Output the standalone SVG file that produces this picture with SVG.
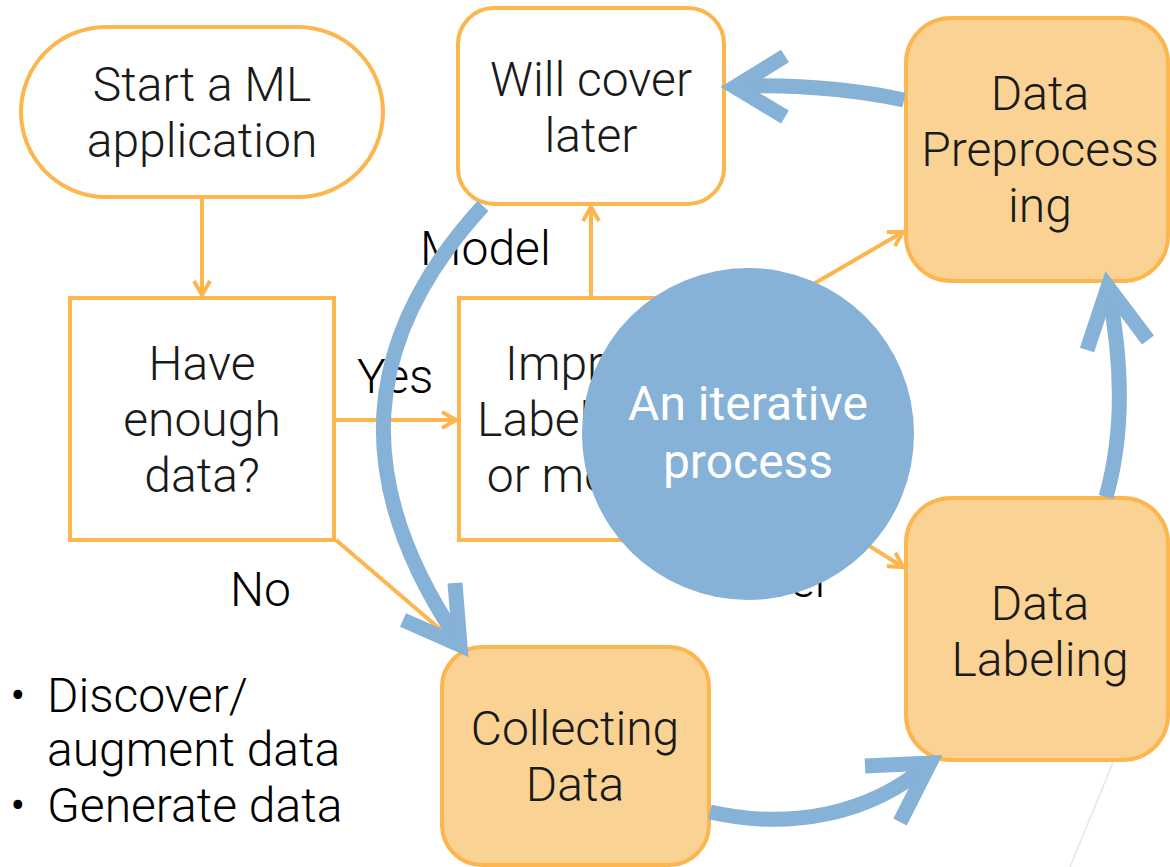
<svg xmlns="http://www.w3.org/2000/svg" width="1170" height="867" viewBox="0 0 1170 867">
<style>
.t{font-family:Roboto,"Liberation Sans",sans-serif;font-weight:300;font-size:48px;fill:#1a1a1a;text-anchor:middle}
.l{font-family:Roboto,"Liberation Sans",sans-serif;font-weight:300;font-size:48px;fill:#000}
.w{font-family:Roboto,"Liberation Sans",sans-serif;font-weight:400;font-size:48px;fill:#fff;text-anchor:middle}
.box{fill:#fff;stroke:#FDB54E;stroke-width:4}
.ob{fill:#F9D294;stroke:#FDB54E;stroke-width:4}
.oc{fill:none;stroke:#FDB54E;stroke-width:4}
.bc{fill:none;stroke:#85B2D6;stroke-width:15}
</style>
<defs>
<marker id="oa" viewBox="0 0 20 20" refX="18" refY="10" markerWidth="20" markerHeight="20" markerUnits="userSpaceOnUse" orient="auto">
<path d="M4,2 L18,10 L4,18" fill="none" stroke="#FDB54E" stroke-width="4"/>
</marker>
</defs>
<line x1="1114" y1="760" x2="1070" y2="867" stroke="#e6e6e6" stroke-width="1.5"/>
<g id="connectors">
<line class="oc" x1="202" y1="198" x2="202" y2="295" marker-end="url(#oa)"/>
<line class="oc" x1="335" y1="420" x2="456" y2="420" marker-end="url(#oa)"/>
<line class="oc" x1="336" y1="540" x2="462" y2="648" marker-end="url(#oa)"/>
<line class="oc" x1="591" y1="298" x2="591" y2="207" marker-end="url(#oa)"/>
<line class="oc" x1="760" y1="315" x2="903" y2="232" marker-end="url(#oa)"/>
<line class="oc" x1="780" y1="490" x2="903" y2="567" marker-end="url(#oa)"/>
<text class="l" x="357" y="393">Yes</text>
<text class="l" x="230" y="606">No</text>
<text class="l" x="420" y="265">Model</text>
<text class="l" x="780" y="352">Data</text>
<text class="l" x="712" y="597">Label</text>
</g>
<g id="start"><rect class="box" x="21" y="27" width="362" height="170" rx="85"/>
<text class="t" x="202" y="101">Start a ML</text><text class="t" x="202" y="157">application</text></g>
<g id="enough"><rect class="box" x="70" y="298" width="264" height="242"/>
<text class="t" x="202" y="380">Have</text><text class="t" x="202" y="436">enough</text><text class="t" x="202" y="492">data?</text></g>
<g id="improve"><rect class="box" x="459" y="298" width="265" height="242"/>
<text class="t" x="591" y="380">Improve</text><text class="t" x="591" y="436">Label, data</text><text class="t" x="591" y="492">or model?</text></g>
<g id="later"><rect class="box" x="458" y="8" width="266" height="196" rx="36"/>
<text class="t" x="591" y="96">Will cover</text><text class="t" x="591" y="152">later</text></g>
<g id="preprocess"><rect class="ob" x="906" y="18" width="262" height="263" rx="45"/>
<text class="t" x="1040" y="110">Data</text><text class="t" x="1040" y="166">Preprocess</text><text class="t" x="1040" y="222">ing</text></g>
<g id="labeling"><rect class="ob" x="906" y="498" width="262" height="262" rx="45"/>
<text class="t" x="1040" y="620">Data</text><text class="t" x="1040" y="676">Labeling</text></g>
<g id="collecting"><rect class="ob" x="442" y="647" width="267" height="218" rx="40"/>
<text class="t" x="575" y="745">Collecting</text><text class="t" x="575" y="801">Data</text></g>
<g id="iterative"><circle cx="748" cy="434" r="166" fill="#85B2D6"/>
<text class="w" x="748" y="420">An iterative</text><text class="w" x="748" y="478">process</text></g>
<g id="cycle">
<path class="bc" d="M904,100 Q830,84 735,86"/>
<path class="bc" d="M785,56 L735,87 L785,117"/>
<path class="bc" d="M483,206 C360,340 350,480 458,640"/>
<path class="bc" d="M403,620 L460,645 L455,583"/>
<path class="bc" d="M710,812 C790,830 870,815 930,763"/>
<path class="bc" d="M865,766 L930,763 L900,822"/>
<path class="bc" d="M1106,497 C1125,430 1122,360 1108,287"/>
<path class="bc" d="M1087,350 L1108,287 L1148,340"/>
</g>
<g id="bullets">
<text class="l" x="10" y="712">•</text><text class="l" x="47" y="712">Discover/</text>
<text class="l" x="47" y="766">augment data</text>
<text class="l" x="10" y="822">•</text><text class="l" x="47" y="822">Generate data</text>
</g>
</svg>
